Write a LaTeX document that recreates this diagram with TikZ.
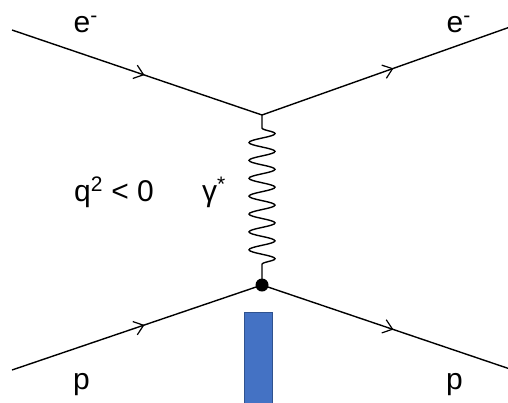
\documentclass[tikz,border=0pt]{standalone}
\usepackage{fontspec}
\setmainfont{Liberation Sans}
\usetikzlibrary{decorations.pathmorphing,decorations.markings,arrows.meta}
\definecolor{barblue}{HTML}{4472C4}
\definecolor{barborder}{HTML}{2F528F}
\begin{document}
\begin{tikzpicture}[x=1pt,y=-1pt,
  fermion/.style={line width=1.4pt, postaction={decorate},
    decoration={markings, mark=at position 0.53 with {\arrow{Straight Barb[length=9pt,width=14pt,line width=1.2pt]}}}},
  photon/.style={line width=1.4pt, decorate,
    decoration={snake, amplitude=13pt, segment length=17.875pt, pre length=13pt, post length=14pt}},
  lbl/.style={font=\fontsize{30}{36}\selectfont, anchor=base west, inner sep=0pt}]
\useasboundingbox (0,0) rectangle (508,402);
\coordinate (a) at (12,30);
\coordinate (v1) at (262,115);
\coordinate (b) at (510,27);
\coordinate (c) at (12,370);
\node[circle, fill=black, minimum size=13pt, inner sep=0pt] (v2) at (262,285) {};
\coordinate (d) at (510,369);
\draw[fermion] (a) -- (v1);
\draw[fermion] (v1) -- (b);
\draw[fermion] (c) -- (v2.center);
\draw[fermion] (v2.center) -- (d);
\draw[photon] (v1) -- (v2.center);
\node[fill=barblue, draw=barborder, line width=1pt, minimum width=28pt, minimum height=92pt,
  inner sep=0pt, anchor=north west] (bar) at (243.5,312) {};
\node[lbl] (e1) at (73.5,32) {e\textsuperscript{-}};
\node[lbl] (e2) at (446.5,32) {e\textsuperscript{-}};
\node[lbl] (q) at (74,201) {q\textsuperscript{2} < 0};
\node[lbl] (g) at (202,201) {γ\textsuperscript{*}};
\node[lbl] (p1) at (73,389) {p};
\node[lbl] (p2) at (446,389) {p};
\end{tikzpicture}
\end{document}
